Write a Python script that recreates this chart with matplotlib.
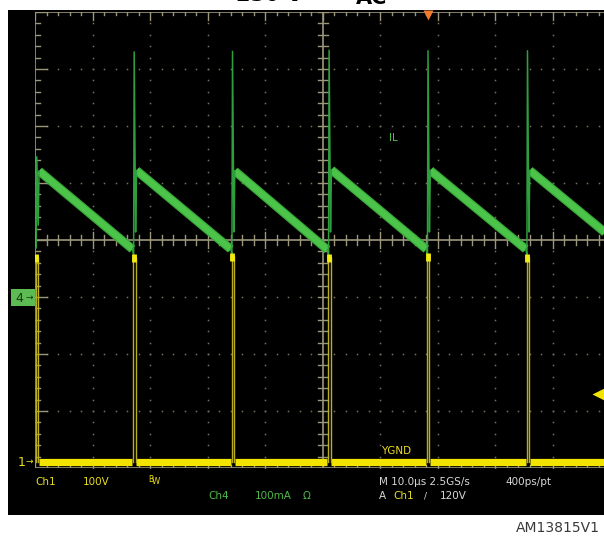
import matplotlib
matplotlib.use("Agg")
import matplotlib.pyplot as plt
import numpy as np

# scope settings
t_div = 10.0          # us / div
ch1_scale = 100.0     # V / div
ch4_scale = 100.0     # mA / div
ch1_offset = -3.9     # div (marker "1")
ch4_offset = -1.0     # div (marker "4")

# switching instants (us) and inductor current (mA)
sw_times = [0.26, 17.2, 34.3, 51.1, 68.3, 85.6]
il_dip = [86, 74, 74, 74, 74, 74]
il_spike = [246, 430, 431, 433, 432, 432]
il_ramp_top = [221, 222, 221, 223, 222, 222]
il_ramp_end = [84, 84, 83, 84, 84, 106]
ramp_end_times = [16.95, 34.05, 50.85, 68.05, 85.35, 100.0]

# drain voltage (V)
vds_low = [0, 0, 0, 0, 0, 0]
vds_high = [360, 360, 362, 360, 361, 360]
trig_level = 120

W, H = 604, 542
fig = plt.figure(figsize=(W / 100, H / 100), dpi=100)
fig.patch.set_facecolor("white")


def fx(x):
    return x / W


def fy(y):
    return 1 - y / H


# black screen
screen = fig.add_axes([fx(8), fy(515), fx(596), 505 / H])
screen.set_facecolor("black")
screen.set_xticks([])
screen.set_yticks([])
for s in screen.spines.values():
    s.set_visible(False)

ax = fig.add_axes([fx(35), fy(468), 575 / W, 456 / H])
ax.set_facecolor("none")
ax.set_xlim(0, 100)
ax.set_ylim(-4, 4)
ax.axis("off")

grid_c = "#9c967a"
dot_c = "#77725e"
px_x = 100 / 575.0   # us per pixel
px_y = 8 / 456.0     # div per pixel

# dotted graticule
for gx in range(10, 100, 10):
    if gx == 50:
        continue
    ys = np.arange(-4, 4.01, 0.2)
    ax.plot([gx] * len(ys), ys, ls="none", marker="s", ms=1.1, mfc=dot_c, mec="none", zorder=1)
for gy in [-3, -2, -1, 1, 2, 3]:
    xs = np.arange(0, 100.1, 2)
    ax.plot(xs, [gy] * len(xs), ls="none", marker="s", ms=1.1, mfc=dot_c, mec="none", zorder=1)

# border and centre axes
ax.plot([0, 0], [-4, 4], color=grid_c, lw=1.2, zorder=2)
ax.plot([0, 100], [4, 4], color=grid_c, lw=1.2, zorder=2)
ax.plot([0, 100], [-4, -4], color=grid_c, lw=1.2, zorder=2)
ax.plot([50, 50], [-4, 4], color=grid_c, lw=1.2, zorder=2)
ax.plot([0, 100], [0, 0], color=grid_c, lw=1.2, zorder=2)

# tick marks
for k, x in enumerate(np.arange(0, 100.1, 2)):
    major = (k % 5 == 0)
    ln = (8 if major else 3) * px_y
    ax.plot([x, x], [4, 4 - ln], color=grid_c, lw=1, zorder=2)
    ax.plot([x, x], [-4, -4 + ln], color=grid_c, lw=1, zorder=2)
    c = (8 if major else 5) * px_y
    ax.plot([x, x], [-c, c], color=grid_c, lw=1, zorder=2)
for k, y in enumerate(np.arange(-4, 4.01, 0.2)):
    major = (k % 5 == 0)
    ln = (12 if major else 5) * px_x
    ax.plot([0, ln], [y, y], color=grid_c, lw=1, zorder=2)
    ax.plot([50 - 5 * px_x, 50 + 5 * px_x], [y, y], color=grid_c, lw=1, zorder=2)


def i_div(v):
    return np.asarray(v, dtype=float) / ch4_scale + ch4_offset


def v_div(v):
    return np.asarray(v, dtype=float) / ch1_scale + ch1_offset


# ---- Ch4: inductor current ----
green = "#4cc44a"
for i, t in enumerate(sw_times):
    # ramp (thick noisy band)
    ax.plot([t + 0.45, ramp_end_times[i]], i_div([il_ramp_top[i], il_ramp_end[i]]),
            color="#3aa83a", lw=6.4, solid_capstyle="butt", zorder=4)
    ax.plot([t + 0.45, ramp_end_times[i]], i_div([il_ramp_top[i], il_ramp_end[i]]),
            color=green, lw=4.6, solid_capstyle="butt", zorder=4)
    # switching spike
    prev_end = il_ramp_end[i - 1] if i > 0 else il_dip[0]
    ax.plot([t - 0.25, t - 0.05, t + 0.05, t + 0.3, t + 0.45],
            i_div([prev_end, il_dip[i], il_spike[i], il_dip[i] + 40, il_ramp_top[i]]),
            color="#2f9e3c", lw=1.1, zorder=5)

# ---- Ch1: drain voltage ----
yellow = "#f2e400"
for i, t in enumerate(sw_times):
    end = sw_times[i + 1] - 0.25 if i + 1 < len(sw_times) else 100
    ax.plot([t + 0.45, end], v_div([vds_low[i], vds_low[i]]), color=yellow, lw=5.2,
            solid_capstyle="butt", zorder=3)
    ax.plot([t - 0.1, t - 0.1, t + 0.3, t + 0.3], v_div([0, vds_high[i], vds_high[i], 0]),
            color="#b9ae22", lw=1, zorder=3)
    ax.plot([t, t], v_div([vds_high[i] - 8, vds_high[i] + 6]), color="#f0ea10", lw=3.5,
            solid_capstyle="butt", zorder=6)

# trace labels on screen
ax.text(62.3, (240 - 138) / 57, "IL", color="#4cbf44", fontsize=7.5, ha="center", va="center")
ax.text(62.8, (240 - 451) / 57, "YGND", color="#e8dc20", fontsize=7.5, ha="center", va="center")

# trigger position marker (orange) and trigger level (yellow)
ax.plot([68.3], [4 - 2.5 * px_y], marker="v", ms=6.5, color="#f07a30", mec="none", zorder=7,
        clip_on=False)
ax.plot([97.9], v_div([trig_level]), marker="<", ms=8, color="#f2e400", mec="none",
        zorder=7, clip_on=False)
ax.plot([98.2, 100], v_div([trig_level, trig_level]), color="#f2e400", lw=2.5, zorder=7)

# channel markers
fig.patches.append(plt.Rectangle((fx(11), fy(306)), fx(24), 17 / H, transform=fig.transFigure,
                                 facecolor="#5dbb54", edgecolor="none"))
fig.text(fx(15), fy(298), "4", color="#1a3a16", fontsize=9, va="center", ha="left")
fig.text(fx(25), fy(297), "\u2192", color="#1a3a16", fontsize=6.5, va="center", ha="left")
fig.text(fx(18), fy(462), "1", color="#e8dc20", fontsize=9, va="center", ha="left")
fig.text(fx(26), fy(461), "\u2192", color="#e8dc20", fontsize=6.5, va="center", ha="left")

# readout
fs = 7.5
ylw, grn, wht = "#e6dc1e", "#4fb848", "#d8d8d8"
fig.text(fx(35), fy(482), "Ch1", color=ylw, fontsize=fs, va="center")
fig.text(fx(83), fy(482), "100V", color=ylw, fontsize=fs, va="center")
fig.text(fx(148), fy(479), "B", color=ylw, fontsize=5.5, va="center")
fig.text(fx(152), fy(482), "W", color=ylw, fontsize=6, va="center")
fig.text(fx(208), fy(496), "Ch4", color=grn, fontsize=fs, va="center")
fig.text(fx(255), fy(496), "100mA", color=grn, fontsize=fs, va="center")
fig.text(fx(303), fy(496), "\u03a9", color=grn, fontsize=fs, va="center")
fig.text(fx(379), fy(482), "M 10.0\u00b5s 2.5GS/s", color=wht, fontsize=fs, va="center")
fig.text(fx(505), fy(482), "400ps/pt", color=wht, fontsize=fs, va="center")
fig.text(fx(379), fy(496), "A", color=wht, fontsize=fs, va="center")
fig.text(fx(393), fy(496), "Ch1", color=ylw, fontsize=fs, va="center")
fig.text(fx(424), fy(496), "/", color=wht, fontsize=6.5, va="center")
fig.text(fx(440), fy(496), "120V", color=wht, fontsize=fs, va="center")

# figure code and cropped caption (only its bottom edge is inside the picture)
fig.text(fx(600), fy(528), "AM13815V1", color="#3a3a3a", fontsize=10, ha="right", va="center")
fig.text(fx(236), fy(1.0), "230 V", color="black", fontsize=15, fontweight="bold",
         ha="left", va="baseline")
fig.text(fx(356), fy(4.0), "AC", color="black", fontsize=15, fontweight="bold",
         ha="left", va="baseline")

fig.savefig("out.png", dpi=100, facecolor="white")
